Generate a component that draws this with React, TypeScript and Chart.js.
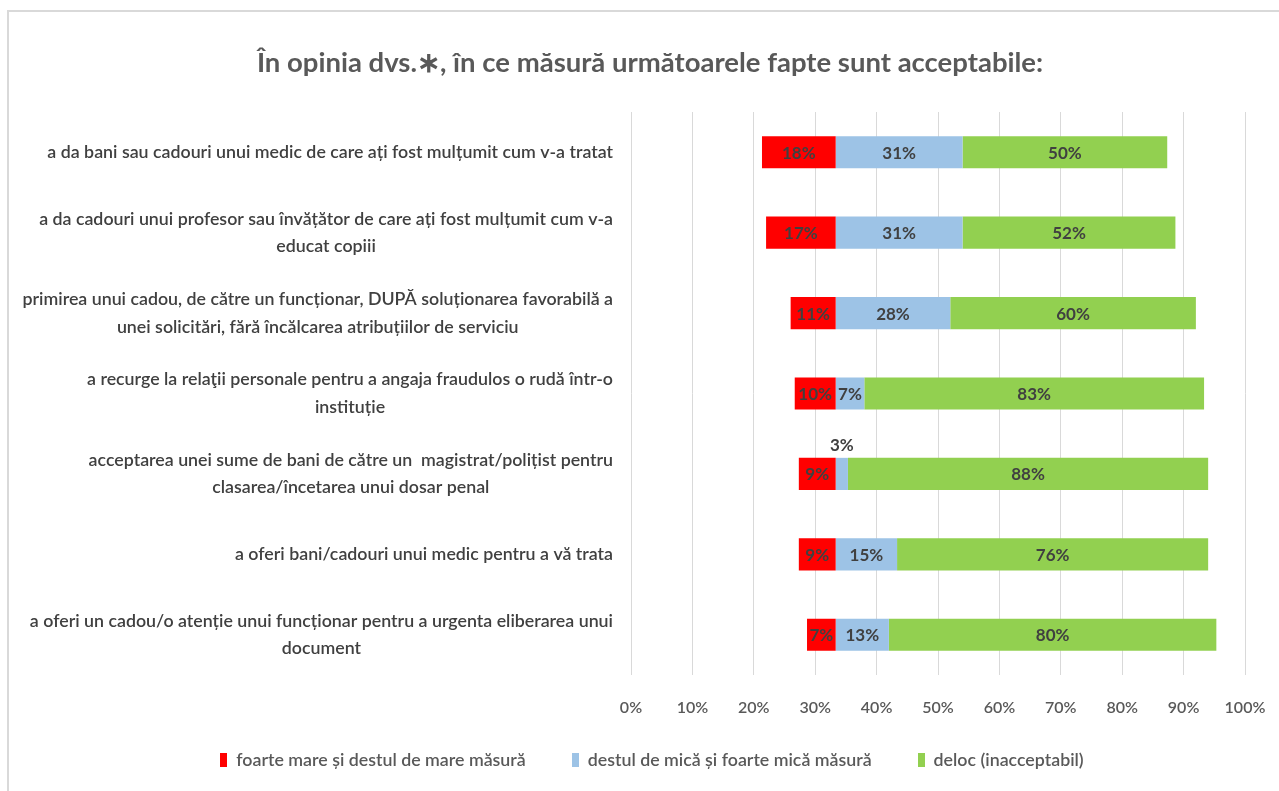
import React, { useEffect, useRef } from "react";
import { Chart, registerables } from "chart.js";

Chart.register(...registerables);

// ---- data ----
const categoryLines: string[][] = [
  ["a da bani sau cadouri unui medic de care ați fost mulțumit cum v-a tratat"],
  ["a da cadouri unui profesor sau învățător de care ați fost mulțumit cum v-a", "educat copiii"],
  ["primirea unui cadou, de către un funcționar, DUPĂ soluționarea favorabilă a", "unei solicitări, fără încălcarea atribuțiilor de serviciu"],
  ["a recurge la relaţii personale pentru a angaja fraudulos o rudă într-o", "instituție"],
  ["acceptarea unei sume de bani de către un  magistrat/polițist pentru", "clasarea/încetarea unui dosar penal"],
  ["a oferi bani/cadouri unui medic pentru a vă trata"],
  ["a oferi un cadou/o atenție unui funcționar pentru a urgenta eliberarea unui", "document"],
];

const seriesNames = [
  "foarte mare și destul de mare măsură",
  "destul de mică și foarte mică măsură",
  "deloc (inacceptabil)",
];

const highShare = [18, 17, 11, 10, 9, 9, 7];
const lowShare = [31, 31, 28, 7, 3, 15, 13];
const noneShare = [50, 52, 60, 83, 88, 76, 80];

const tickLabels = ["0%", "10%", "20%", "30%", "40%", "50%", "60%", "70%", "80%", "90%", "100%"];

// the red / blue boundary sits at 50 on a 0..150 value axis
const pivotValue = 50;
const axisMax = 150;

const titleText = "În opinia dvs.∗, în ce măsură următoarele fapte sunt acceptabile:";

// ---- styles ----
const FONT = "Lato, 'Open Sans', sans-serif";
const seriesColors = ["#FF0000", "#9DC3E6", "#92D050"];
const PAD_L = 55;
const PAD_R = 34;
const X_AXIS_H = 43;
const PAD_B = 73;
const TEXT_SIZE = 17.8;

const offsetShare = highShare.map((v) => pivotValue - v);

const borderPlugin = {
  id: "frameBorder",
  beforeDraw(chart: any) {
    const ctx = chart.ctx;
    ctx.save();
    ctx.fillStyle = "#ffffff";
    ctx.fillRect(0, 0, chart.width, chart.height);
    ctx.strokeStyle = "#d9d9d9";
    ctx.lineWidth = 2;
    ctx.beginPath();
    ctx.moveTo(8, chart.height);
    ctx.lineTo(8, 11);
    ctx.lineTo(chart.width, 11);
    ctx.stroke();
    ctx.restore();
  },
};

const categoryLabelPlugin = {
  id: "categoryLabels",
  afterDraw(chart: any) {
    const ctx = chart.ctx;
    const yScale = chart.scales.y;
    const right = chart.chartArea.left - 18;
    ctx.save();
    ctx.font = `600 ${TEXT_SIZE}px ${FONT}`;
    ctx.fillStyle = "#404040";
    ctx.textAlign = "center";
    ctx.textBaseline = "middle";
    const lh = 27.5;
    categoryLines.forEach((lines, i) => {
      const yc = yScale.getPixelForTick(i);
      const blockW = Math.max(...lines.map((l) => ctx.measureText(l).width));
      const cx = right - blockW / 2;
      lines.forEach((l, j) => {
        ctx.fillText(l, cx, yc + (j - (lines.length - 1) / 2) * lh);
      });
    });
    ctx.restore();
  },
};

const valueLabelPlugin = {
  id: "valueLabels",
  afterDatasetsDraw(chart: any) {
    const ctx = chart.ctx;
    ctx.save();
    ctx.font = `bold 17px ${FONT}`;
    ctx.fillStyle = "#404040";
    ctx.textAlign = "center";
    ctx.textBaseline = "middle";
    chart.data.datasets.forEach((ds: any, di: number) => {
      if (ds.isOffset) return;
      const meta = chart.getDatasetMeta(di);
      meta.data.forEach((el: any, i: number) => {
        const v = ds.data[i];
        const { x, base, y, height } = el.getProps(["x", "base", "y", "height"], true);
        const w = Math.abs(x - base);
        const text = `${v}%`;
        const tw = ctx.measureText(text).width;
        const cx = (x + base) / 2;
        if (tw > w) ctx.fillText(text, cx, y - height / 2 - 12);
        else ctx.fillText(text, cx, y + 1);
      });
    });
    ctx.restore();
  },
};

const legendPlugin = {
  id: "bottomLegend",
  afterDraw(chart: any) {
    const ctx = chart.ctx;
    ctx.save();
    ctx.font = `600 ${TEXT_SIZE}px ${FONT}`;
    ctx.textAlign = "left";
    ctx.textBaseline = "middle";
    const items = chart.data.datasets.filter((d: any) => !d.isOffset);
    const boxW = 7;
    const boxH = 14;
    const textGap = 9;
    const itemGap = 46;
    const widths = items.map((d: any) => boxW + textGap + ctx.measureText(d.label).width);
    const total = widths.reduce((a: number, b: number) => a + b, 0) + itemGap * (items.length - 1);
    const centerX = (PAD_L + chart.width - PAD_R) / 2 + 2;
    let x = centerX - total / 2;
    const y = 760;
    items.forEach((d: any, i: number) => {
      ctx.fillStyle = d.backgroundColor;
      ctx.fillRect(Math.round(x), Math.round(y - boxH / 2), boxW, boxH);
      ctx.fillStyle = "#595959";
      ctx.fillText(d.label, x + boxW + textGap, y);
      x += widths[i] + itemGap;
    });
    ctx.restore();
  },
};

export default function App() {
  const canvasRef = useRef<HTMLCanvasElement | null>(null);

  useEffect(() => {
    if (!canvasRef.current) return;
    const chart = new Chart(canvasRef.current, {
      type: "bar",
      data: {
        labels: categoryLines.map((l) => l.join(" ")),
        datasets: [
          {
            label: "offset",
            data: offsetShare,
            backgroundColor: "rgba(0,0,0,0)",
            borderWidth: 0,
            isOffset: true,
          } as any,
          { label: seriesNames[0], data: highShare, backgroundColor: seriesColors[0], borderWidth: 0 },
          { label: seriesNames[1], data: lowShare, backgroundColor: seriesColors[1], borderWidth: 0 },
          { label: seriesNames[2], data: noneShare, backgroundColor: seriesColors[2], borderWidth: 0 },
        ],
      },
      options: {
        indexAxis: "y",
        responsive: false,
        animation: false,
        datasets: { bar: { barPercentage: 0.4, categoryPercentage: 1 } },
        layout: { padding: { left: PAD_L, right: PAD_R, top: 0, bottom: PAD_B } },
        scales: {
          x: {
            stacked: true,
            min: 0,
            max: axisMax,
            ticks: {
              stepSize: 15,
              callback: (_v: any, i: number) => tickLabels[i] ?? "",
              font: { family: FONT, size: 16, weight: "600" },
              color: "#595959",
              padding: 23,
              maxRotation: 0,
            },
            grid: { color: "#d9d9d9", drawTicks: false },
            border: { display: false },
            afterFit: (scale: any) => {
              scale.height = X_AXIS_H;
              scale.paddingLeft = 0;
              scale.paddingRight = 0;
            },
          },
          y: {
            stacked: true,
            ticks: { display: false },
            grid: { display: false },
            border: { display: false },
            afterFit: (scale: any) => {
              scale.width = 631 - PAD_L;
              scale.paddingTop = 0;
              scale.paddingBottom = 0;
            },
          },
        },
        plugins: {
          title: {
            display: true,
            text: titleText,
            color: "#595959",
            font: { family: FONT, size: 27.5, weight: "bold" },
            padding: { top: 46.5, bottom: 32.5 },
          },
          legend: { display: false },
          tooltip: { enabled: false },
        },
      } as any,
      plugins: [borderPlugin, categoryLabelPlugin, valueLabelPlugin, legendPlugin],
    });
    return () => chart.destroy();
  }, []);

  return (
    <div style={{ position: "fixed", left: 0, top: 0, width: 1279, height: 791, overflow: "hidden", background: "#fff" }}>
      <canvas ref={canvasRef} width={1279} height={791} style={{ display: "block" }} />
    </div>
  );
}
